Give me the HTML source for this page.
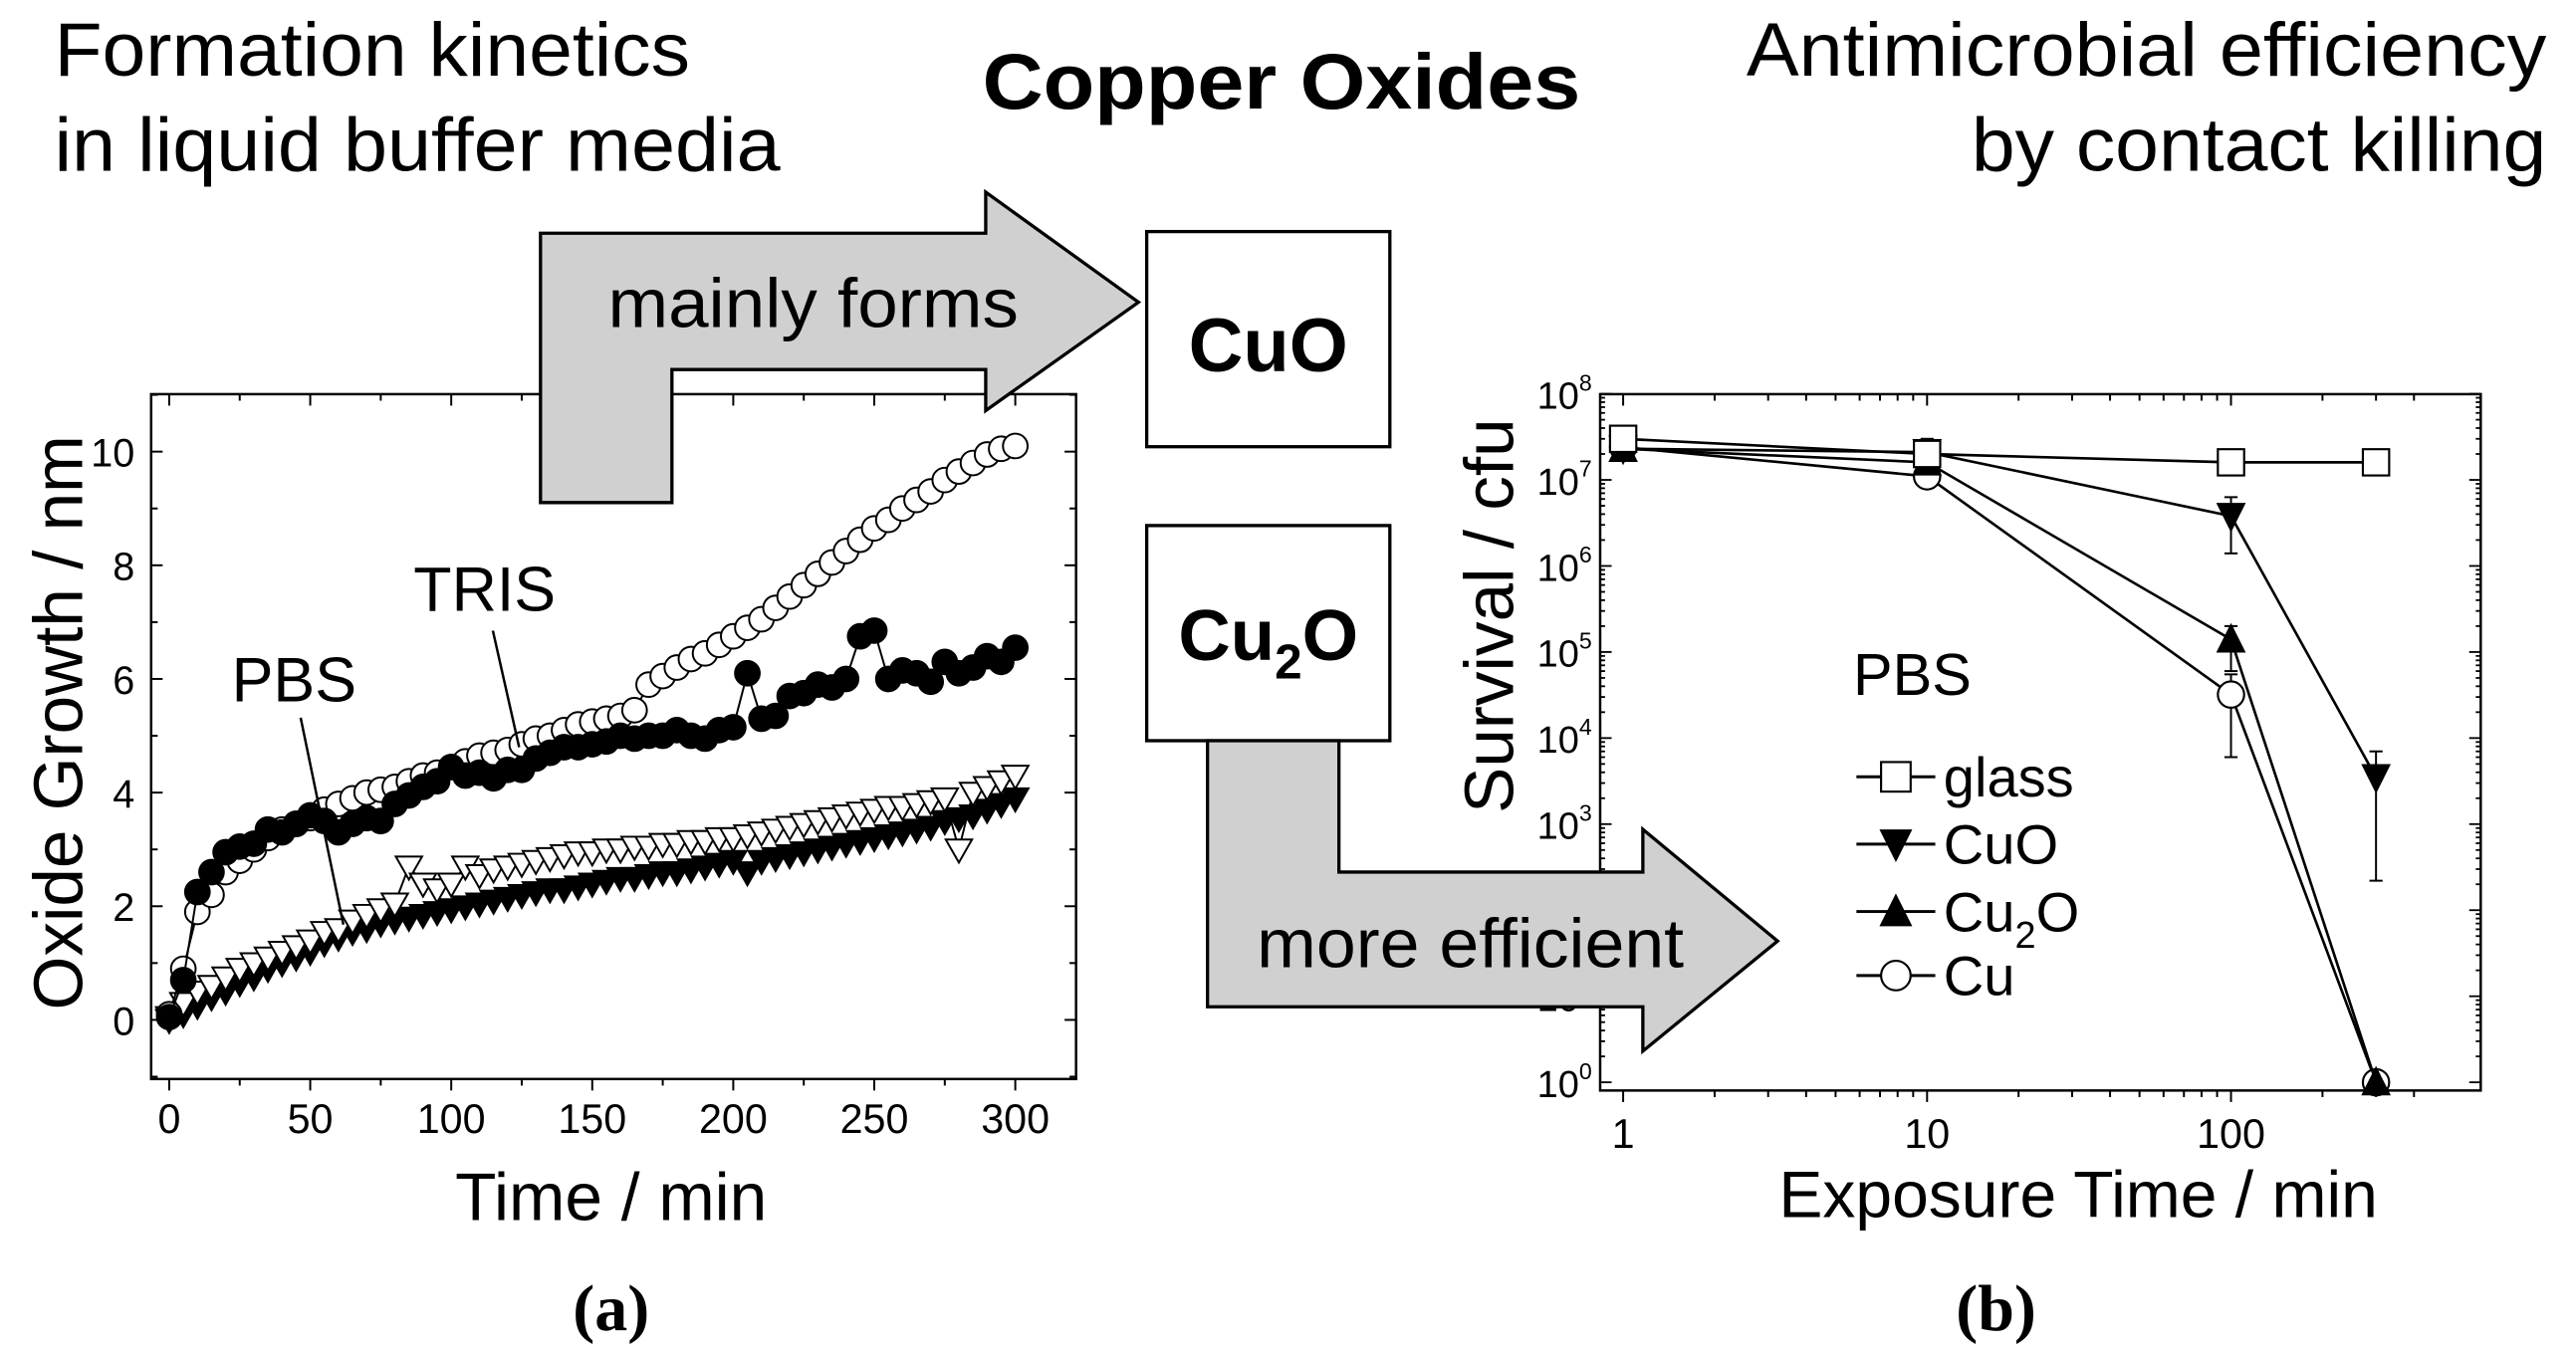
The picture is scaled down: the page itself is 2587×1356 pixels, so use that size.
<!DOCTYPE html>
<html><head><meta charset="utf-8"><style>
html,body{margin:0;padding:0;background:#fff;}
svg{display:block;}
text{font-family:"Liberation Sans",Arial,sans-serif;fill:#000;}
</style></head><body>
<svg id="fig" width="2587" height="1356" viewBox="0 0 1568 822" preserveAspectRatio="none">
<rect x="0" y="0" width="1568" height="822" fill="#fff"/>
<text x="33" y="46" font-size="46" textLength="387" lengthAdjust="spacingAndGlyphs">Formation kinetics</text>
<text x="33" y="104" font-size="46" textLength="442" lengthAdjust="spacingAndGlyphs">in liquid buffer media</text>
<text x="598" y="66" font-size="48" font-weight="bold" textLength="364" lengthAdjust="spacingAndGlyphs">Copper Oxides</text>
<text x="1063" y="46" font-size="46" textLength="487" lengthAdjust="spacingAndGlyphs">Antimicrobial efficiency</text>
<text x="1200" y="104" font-size="46" textLength="350" lengthAdjust="spacingAndGlyphs">by contact killing</text>

<g id="left-chart"></g>
<g id="right-chart"></g>

<polygon points="329,142 600,142 600,117 693,184 600,250 600,225 409,225 409,306 329,306" fill="#d0d0d0" stroke="#000" stroke-width="2"/>
<text x="370" y="199" font-size="42" textLength="250" lengthAdjust="spacingAndGlyphs">mainly forms</text>
<rect x="698" y="141" width="148" height="131" fill="#fff" stroke="#000" stroke-width="2"/>
<text x="772" y="226" font-size="46" font-weight="bold" text-anchor="middle">CuO</text>
<rect x="698" y="320" width="148" height="131" fill="#fff" stroke="#000" stroke-width="2"/>
<text x="772" y="402" font-size="44" font-weight="bold" text-anchor="middle">Cu<tspan font-size="30" dy="11">2</tspan><tspan dy="-11">O</tspan></text>
<polygon points="735,451 815,451 815,531 1000,531 1000,505 1082,573 1000,640 1000,613 735,613" fill="#d0d0d0" stroke="#000" stroke-width="2"/>
<text x="765" y="589" font-size="42" textLength="260" lengthAdjust="spacingAndGlyphs">more efficient</text>

<text x="372" y="810" font-size="40" font-weight="bold" text-anchor="middle" style="font-family:'Liberation Serif',serif">(a)</text>
<text x="1215" y="810" font-size="40" font-weight="bold" text-anchor="middle" style="font-family:'Liberation Serif',serif">(b)</text>
</svg>
<script>
// ---- Left chart data (time in min, growth in nm) ----
const timesA = [0,5,10,15,20,25,30,35,40,45,50,55,60,65,70,75,80,85,90,95,100,105,110,115,120,125,130,135,140,145,150,155,160,165,170,175,180,185,190,195,200,205,210,215,220,225,230,235,240,245,250,255,260,265,270,275,280,285,290,295,300];
const trisOpen = [0.1,0.9,1.9,2.2,2.6,2.8,3.0,3.2,3.35,3.45,3.55,3.7,3.8,3.9,4.0,4.05,4.1,4.2,4.3,4.35,4.45,4.55,4.65,4.7,4.75,4.85,4.95,5.0,5.1,5.2,5.25,5.3,5.35,5.45,5.9,6.05,6.2,6.35,6.45,6.6,6.75,6.9,7.05,7.25,7.45,7.65,7.85,8.05,8.25,8.45,8.65,8.8,9.0,9.15,9.3,9.5,9.65,9.8,9.95,10.05,10.1];
const trisFilled = [0.05,0.7,2.25,2.6,2.95,3.05,3.1,3.35,3.3,3.45,3.6,3.5,3.3,3.45,3.55,3.5,3.8,3.95,4.1,4.2,4.45,4.3,4.35,4.25,4.4,4.4,4.6,4.7,4.8,4.8,4.85,4.9,5.0,4.95,5.0,5.0,5.1,5.0,4.95,5.1,5.15,6.1,5.3,5.35,5.7,5.75,5.9,5.85,6.0,6.75,6.85,6.0,6.15,6.1,5.95,6.3,6.1,6.2,6.4,6.3,6.55];
const pbsOpen = [0.05,0.3,0.5,0.6,0.75,0.9,1.0,1.1,1.2,1.3,1.4,1.55,1.6,1.75,1.85,1.95,2.05,2.7,2.4,2.3,2.4,2.7,2.55,2.65,2.7,2.75,2.8,2.85,2.9,2.95,2.95,3.0,3.0,3.05,3.05,3.1,3.1,3.15,3.15,3.2,3.2,3.25,3.3,3.35,3.4,3.45,3.5,3.55,3.6,3.65,3.7,3.75,3.75,3.8,3.85,3.9,3.0,4.0,4.1,4.2,4.3];
const pbsFilled = [0.0,0.1,0.25,0.4,0.5,0.65,0.75,0.9,1.0,1.1,1.2,1.35,1.45,1.55,1.6,1.7,1.75,1.8,1.85,1.9,1.95,2.0,2.05,2.1,2.15,2.2,2.25,2.3,2.3,2.35,2.4,2.45,2.5,2.5,2.55,2.6,2.6,2.65,2.7,2.75,2.8,2.6,2.8,2.85,2.9,2.95,3.0,3.05,3.1,3.15,3.2,3.25,3.3,3.35,3.4,3.5,3.55,3.6,3.7,3.8,3.9];
const xTicksA = [0,50,100,150,200,250,300];
const yTicksA = [0,2,4,6,8,10];

// ---- Right chart data ----
const timesB = [1,10,100,300];
const glassVals = [3e7,2e7,1.6e7,1.6e7];
const cuoVals = [2.3e7,2.1e7,3.8e6,3.5e3];
const cu2oVals = [2.3e7,1.6e7,1.4e5,1];
const cuVals = [2.4e7,1.1e7,3.2e4,1];
const cuoErrLo = [1.8e7,1.5e7,1.4e6,2.2e2];
const cuoErrHi = [2.8e7,3.0e7,6.3e6,7e3];
const cu2oErrLo = [1.8e7,1.2e7,6e4,1];
const cu2oErrHi = [2.8e7,2.2e7,2e5,1];
const cuErrLo = [2.0e7,0.9e7,6e3,1];
const cuErrHi = [2.8e7,1.3e7,5.5e4,1];
const xTicksB = [1,10,100];
const yExpB = [0,1,2,3,4,5,6,7,8];

const NS = "http://www.w3.org/2000/svg";
function mk(parent, tag, attrs, txt){
  const e = document.createElementNS(NS, tag);
  for (const k in attrs) e.setAttribute(k, attrs[k]);
  if (txt !== undefined) e.textContent = txt;
  parent.appendChild(e);
  return e;
}

// ---------- Left chart ----------
const L = document.getElementById('left-chart');
const ax = t => 103 + (t - 0) * (515 / 300);
const ay = v => 621 - v * 34.6;
const fL = {x0: 92, x1: 655, y0: 240, y1: 657};
let fr = mk(L, 'rect', {x: fL.x0, y: fL.y0, width: fL.x1 - fL.x0, height: fL.y1 - fL.y0, fill: 'none', stroke: '#000', 'stroke-width': 1.5});


for (let t = 0; t <= 300; t += 25) {
  const major = t % 50 === 0, x = ax(t), len = major ? 7 : 4;
  mk(L, 'line', {x1: x, x2: x, y1: fL.y1, y2: fL.y1 + len, stroke: '#000', 'stroke-width': 1.2});
  mk(L, 'line', {x1: x, x2: x, y1: fL.y0, y2: fL.y0 + len, stroke: '#000', 'stroke-width': 1.2});
}
xTicksA.forEach(t => {
  const e = mk(L, 'text', {x: ax(t), y: 690, 'font-size': 25, 'text-anchor': 'middle'}, String(t));
  
  
});
for (let v = -1; v <= 11; v += 1) {
  const major = v % 2 === 0, y = ay(v), len = major ? 7 : 4;
  mk(L, 'line', {x1: fL.x0, x2: fL.x0 + len, y1: y, y2: y, stroke: '#000', 'stroke-width': 1.2});
  mk(L, 'line', {x1: fL.x1, x2: fL.x1 - len, y1: y, y2: y, stroke: '#000', 'stroke-width': 1.2});
}
yTicksA.forEach(v => {
  const e = mk(L, 'text', {x: 82, y: ay(v) + 9, 'font-size': 24, 'text-anchor': 'end'}, String(v));
  
  
});
let tA = mk(L, 'text', {x: 372, y: 743, 'font-size': 41, 'text-anchor': 'middle'}, 'Time / min');


let yA = mk(L, 'text', {x: 0, y: 0, 'font-size': 42, 'text-anchor': 'middle', transform: 'translate(50,440) rotate(-90)'}, 'Oxide Growth / nm');



function seriesA(vals, kind, fill, name) {
  const g = mk(L, 'g', {});
  
  
  const pts = vals.map((v, i) => ax(timesA[i]) + ',' + ay(v)).join(' ');
  mk(g, 'polyline', {points: pts, fill: 'none', stroke: '#000', 'stroke-width': 1.2});
  vals.forEach((v, i) => {
    const x = ax(timesA[i]), y = ay(v);
    let m;
    if (kind === 'circle') m = mk(g, 'circle', {cx: x, cy: y, r: 7.5, fill: fill, stroke: '#000', 'stroke-width': 1.2});
    else m = mk(g, 'polygon', {points: (x - 8) + ',' + (y - 6) + ' ' + (x + 8) + ',' + (y - 6) + ' ' + x + ',' + (y + 8), fill: fill, stroke: '#000', 'stroke-width': 1.2});
    
    
  });
}
seriesA(pbsFilled, 'tri', '#000', 'pbs-filled-series');
seriesA(pbsOpen, 'tri', '#fff', 'pbs-open-series');
seriesA(trisOpen, 'circle', '#fff', 'tris-open-series');
seriesA(trisFilled, 'circle', '#000', 'tris-filled-series');

let pl = mk(L, 'text', {x: 179, y: 427, 'font-size': 38, 'text-anchor': 'middle'}, 'PBS');


mk(L, 'line', {x1: 183, y1: 437, x2: 209, y2: 563, stroke: '#000', 'stroke-width': 1.5});
let tl = mk(L, 'text', {x: 295, y: 372, 'font-size': 38, 'text-anchor': 'middle'}, 'TRIS');


mk(L, 'line', {x1: 300, y1: 384, x2: 316, y2: 455, stroke: '#000', 'stroke-width': 1.5});

// ---------- Right chart ----------
const R = document.getElementById('right-chart');
const bx = t => 988 + Math.log10(t) * 185;
const by = v => 659 - Math.log10(v) * 52.4;
const fR = {x0: 974, x1: 1510, y0: 240, y1: 664};
let fr2 = mk(R, 'rect', {x: fR.x0, y: fR.y0, width: fR.x1 - fR.x0, height: fR.y1 - fR.y0, fill: 'none', stroke: '#000', 'stroke-width': 1.5});


[1, 10, 100].forEach(d => {
  for (let k = 1; k <= 9; k++) {
    const t = d * k; if (t > 490) break;
    const x = bx(t), len = k === 1 ? 7 : 4;
    mk(R, 'line', {x1: x, x2: x, y1: fR.y1, y2: fR.y1 + len, stroke: '#000', 'stroke-width': 1.2});
    mk(R, 'line', {x1: x, x2: x, y1: fR.y0, y2: fR.y0 + len, stroke: '#000', 'stroke-width': 1.2});
  }
});
xTicksB.forEach(t => {
  const e = mk(R, 'text', {x: bx(t), y: 699, 'font-size': 25, 'text-anchor': 'middle'}, String(t));
  
  
});
yExpB.forEach(p => {
  for (let k = 1; k <= 9; k++) {
    if (p === 8 && k > 1) break;
    const y = by(k * Math.pow(10, p)), len = k === 1 ? 7 : 3;
    mk(R, 'line', {x1: fR.x0, x2: fR.x0 + len, y1: y, y2: y, stroke: '#000', 'stroke-width': 1.1});
    mk(R, 'line', {x1: fR.x1, x2: fR.x1 - len, y1: y, y2: y, stroke: '#000', 'stroke-width': 1.1});
  }
  const e = mk(R, 'text', {x: 969, y: by(Math.pow(10, p)) + 9, 'font-size': 23, 'text-anchor': 'end'});
  
  
  e.textContent = '10';
  mk(e, 'tspan', {'font-size': 14, dy: -11}, String(p));
});
let tB = mk(R, 'text', {x: 1265, y: 741, 'font-size': 40, 'text-anchor': 'middle'}, 'Exposure Time / min');


let yB = mk(R, 'text', {x: 0, y: 0, 'font-size': 42, 'text-anchor': 'middle', transform: 'translate(921,375) rotate(-90)'}, 'Survival  / cfu');



function marker(g, kind, x, y, r) {
  let m;
  if (kind === 'square') m = mk(g, 'rect', {x: x - r, y: y - r, width: 2 * r, height: 2 * r, fill: '#fff', stroke: '#000', 'stroke-width': 1.3});
  else if (kind === 'circle') m = mk(g, 'circle', {cx: x, cy: y, r: r, fill: '#fff', stroke: '#000', 'stroke-width': 1.3});
  else if (kind === 'down') m = mk(g, 'polygon', {points: (x - r - 1) + ',' + (y - r) + ' ' + (x + r + 1) + ',' + (y - r) + ' ' + x + ',' + (y + r + 2), fill: '#000'});
  else m = mk(g, 'polygon', {points: (x - r - 1) + ',' + (y + r) + ' ' + (x + r + 1) + ',' + (y + r) + ' ' + x + ',' + (y - r - 2), fill: '#000'});
  return m;
}
function seriesB(vals, lo, hi, kind, name) {
  const g = mk(R, 'g', {});
  
  
  mk(g, 'polyline', {points: vals.map((v, i) => bx(timesB[i]) + ',' + by(v)).join(' '), fill: 'none', stroke: '#000', 'stroke-width': 1.6});
  if (lo) vals.forEach((v, i) => {
    const x = bx(timesB[i]);
    mk(g, 'line', {x1: x, x2: x, y1: by(lo[i]), y2: by(hi[i]), stroke: '#000', 'stroke-width': 1.2});
    mk(g, 'line', {x1: x - 4, x2: x + 4, y1: by(lo[i]), y2: by(lo[i]), stroke: '#000', 'stroke-width': 1.2});
    mk(g, 'line', {x1: x - 4, x2: x + 4, y1: by(hi[i]), y2: by(hi[i]), stroke: '#000', 'stroke-width': 1.2});
  });
  vals.forEach((v, i) => {
    const m = marker(g, kind, bx(timesB[i]), by(v), 8);
    
    
  });
}
seriesB(cuVals, cuErrLo, cuErrHi, 'circle', 'cu-series');
seriesB(cu2oVals, cu2oErrLo, cu2oErrHi, 'up', 'cu2o-series');
seriesB(cuoVals, cuoErrLo, cuoErrHi, 'down', 'cuo-series');
seriesB(glassVals, null, null, 'square', 'glass-series');

// legend
const lg = mk(R, 'g', {});


let pb = mk(lg, 'text', {x: 1128, y: 423, 'font-size': 36}, 'PBS');


const legNames = ['glass', 'CuO', 'Cu2O', 'Cu'];
const legKinds = ['square', 'down', 'up', 'circle'];
const legY = [473, 514, 555, 594];
legNames.forEach((n, i) => {
  const y = legY[i];
  const it = mk(lg, 'g', {});
  
  
  mk(it, 'line', {x1: 1130, x2: 1178, y1: y, y2: y, stroke: '#000', 'stroke-width': 1.8});
  marker(it, legKinds[i], 1154, y, 9);
  const t = mk(it, 'text', {x: 1183, y: y + 12, 'font-size': 34});
  if (n === 'Cu2O') { t.textContent = 'Cu'; mk(t, 'tspan', {'font-size': 23, dy: 10}, '2'); mk(t, 'tspan', {dy: -10}, 'O'); }
  else t.textContent = n;
});
</script>
</body></html>
